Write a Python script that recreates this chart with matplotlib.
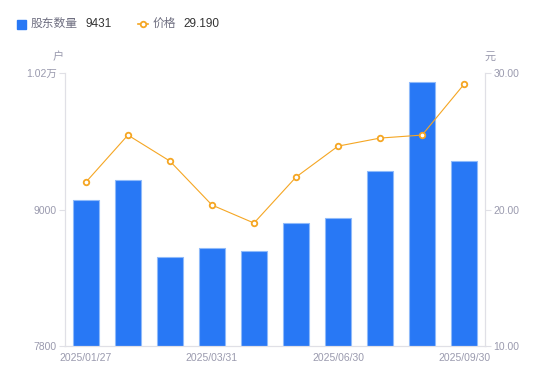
import matplotlib.pyplot as plt
import numpy as np

plt.rcParams['font.family'] = ['Liberation Sans', 'Noto Sans CJK SC', 'DejaVu Sans']

dates = ['2025/01/27', '2025/02/28', '2025/03/10', '2025/03/31', '2025/04/30',
         '2025/05/30', '2025/06/30', '2025/07/31', '2025/08/29', '2025/09/30']
holders = [9083, 9259, 8582, 8661, 8635, 8881, 8925, 9338, 10121, 9431]
prices = [22.01, 25.46, 23.55, 20.33, 19.01, 22.38, 24.65, 25.24, 25.46, 29.19]
left_ticks = [7800, 9000, 10200]
left_labels = ['7800', '9000', '1.02万']
right_ticks = [10, 20, 30]

bar_color = '#2878F5'
line_color = '#F5A623'
axis_grey = '#E0E0E6'
text_grey = '#9A9AAE'

fig = plt.figure(figsize=(5.5, 3.81), dpi=100)
ax = fig.add_axes([0.118, 0.092, 0.764, 0.716])
x = np.arange(len(dates))

ax.bar(x, holders, width=0.6, color=bar_color, edgecolor='#8FBAFA', linewidth=0.8)
ax.set_ylim(7800, 10200)
ax.set_xlim(-0.5, len(dates) - 0.5)
ax.set_yticks(left_ticks)
ax.set_yticklabels(left_labels)
ax.set_xticks(x[::3])
ax.set_xticklabels(dates[::3])

ax2 = ax.twinx()
ax2.plot(x, prices, color=line_color, linewidth=0.8, marker='o', markersize=4,
         markerfacecolor='white', markeredgecolor=line_color, markeredgewidth=1.3)
ax2.set_ylim(10, 30)
ax2.set_yticks(right_ticks)
ax2.set_yticklabels(['%.2f' % v for v in right_ticks])

for a in (ax, ax2):
    for s in a.spines.values():
        s.set_color(axis_grey)
        s.set_linewidth(0.8)
    a.spines['top'].set_visible(False)
    a.tick_params(axis='y', colors=axis_grey, labelcolor=text_grey, labelsize=7.5,
                  length=4, width=0.8, pad=2)
    a.tick_params(axis='x', length=0, labelcolor=text_grey, labelsize=7.5, pad=5)

fig.text(58 / 550, 1 - 57 / 381, '户', color=text_grey, fontsize=8, ha='center', va='center')
fig.text(490 / 550, 1 - 57 / 381, '元', color=text_grey, fontsize=8, ha='center', va='center')

# legend row
fig.patches.append(plt.Rectangle((17 / 550, 1 - 29 / 381), 9 / 550, 9 / 381,
                                 transform=fig.transFigure, color=bar_color, figure=fig))
fig.text(31 / 550, 1 - 24 / 381, '股东数量', color='#6E6E80', fontsize=8.5, va='center')
fig.text(85 / 550, 1 - 24 / 381, '9431', color='#333333', fontsize=8.5, va='center')
fig.add_artist(plt.Line2D([138 / 550, 148 / 550], [1 - 24 / 381, 1 - 24 / 381],
                          transform=fig.transFigure, color=line_color, linewidth=1.2))
fig.add_artist(plt.Line2D([143 / 550], [1 - 24 / 381], transform=fig.transFigure,
                          color=line_color, marker='o', markersize=4,
                          markerfacecolor='white', markeredgewidth=1.3))
fig.text(153 / 550, 1 - 24 / 381, '价格', color='#6E6E80', fontsize=8.5, va='center')
fig.text(183 / 550, 1 - 24 / 381, '29.190', color='#333333', fontsize=8.5, va='center')

plt.savefig('out.png', dpi=100)
plt.close()
